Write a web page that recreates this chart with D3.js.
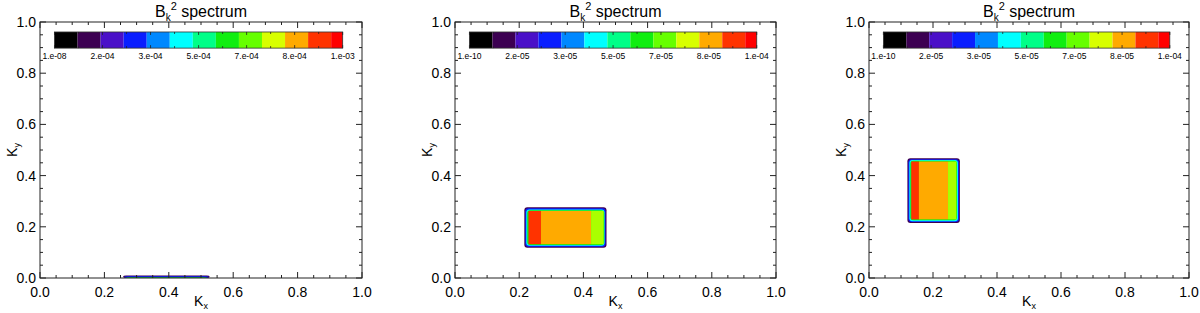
<!DOCTYPE html>
<html><head><meta charset="utf-8">
<script src="https://cdn.jsdelivr.net/npm/d3@7"></script>
<style>body{margin:0;background:#fff}svg{display:block}text{font-family:"Liberation Sans",Arial,sans-serif;fill:#000}</style>
</head><body><svg id="c" width="1200" height="313"></svg>
<script>
// ---- data ----
const levelColors = ["#000000","#3c0052","#4a10c8","#0a1eff","#0088ff","#00ffff","#00ff88","#10ee10","#66ff00","#d8ff00","#ffaa00","#ff3300","#ff0000"];
const axisTicks = [0, 0.2, 0.4, 0.6, 0.8, 1.0];
const axisTickLabels = ["0.0","0.2","0.4","0.6","0.8","1.0"];
const cbLabels1 = ["1.e-08","2.e-04","3.e-04","5.e-04","7.e-04","8.e-04","1.e-03"];
const cbLabels2 = ["1.e-10","2.e-05","3.e-05","5.e-05","7.e-05","8.e-05","1.e-04"];
const cbLabels3 = ["1.e-10","2.e-05","3.e-05","5.e-05","7.e-05","8.e-05","1.e-04"];
// contour bands: [level, kx0, kx1, ky0, ky1]
const bands1 = [[1,0.258,0.527,0.000,0.010],[3,0.261,0.524,0.000,0.007],[7,0.265,0.520,0.000,0.003]];
const bands2 = [[1,0.216,0.472,0.118,0.276],[3,0.219,0.469,0.122,0.272],[5,0.222,0.466,0.126,0.268],[7,0.225,0.465,0.129,0.265],
                [11,0.229,0.268,0.132,0.262],[10,0.268,0.424,0.132,0.262],[8,0.424,0.463,0.132,0.262]];
const bands3 = [[1,0.120,0.284,0.215,0.468],[3,0.123,0.281,0.219,0.464],[5,0.126,0.278,0.222,0.461],[7,0.129,0.275,0.226,0.458],
                [11,0.132,0.156,0.229,0.455],[10,0.156,0.247,0.229,0.455],[8,0.247,0.273,0.229,0.455]];

const panels = [
  {left:40, right:362, bands:bands1, cb:cbLabels1},
  {left:455, right:776, bands:bands2, cb:cbLabels2},
  {left:869, right:1189, bands:bands3, cb:cbLabels3}
];
const plotTop = 22, plotBottom = 278;
const svg = d3.select("#c");
const stripColor = "#aaff00";

panels.forEach(p => {
  const g = svg.append("g");
  const x = d3.scaleLinear().domain([0,1]).range([p.left, p.right]);
  const y = d3.scaleLinear().domain([0,1]).range([plotBottom, plotTop]);

  // bands
  g.selectAll("rect.band").data(p.bands).enter().append("rect")
    .attr("x", d => x(d[1])).attr("width", d => x(d[2]) - x(d[1]))
    .attr("y", d => y(d[4])).attr("height", d => y(d[3]) - y(d[4]))
    .attr("rx", d => d[0] < 8 ? 3 : 0)
    .attr("fill", d => d[0] === 8 ? stripColor : levelColors[d[0]]);

  // colorbar
  const cbx = d3.scaleLinear().domain([0, 12.5]).range([x(0.045), x(0.94)]);
  const cby0 = y(0.961), cby1 = y(0.898);
  g.selectAll("rect.cb").data(levelColors).enter().append("rect")
    .attr("x", (d,i) => cbx(i)).attr("width", (d,i) => cbx(Math.min(i+1,12.5)) - cbx(i))
    .attr("y", cby0).attr("height", cby1 - cby0).attr("fill", d => d);
  g.append("rect").attr("x", cbx(0)).attr("y", cby0).attr("width", cbx(12.5)-cbx(0)).attr("height", cby1-cby0)
    .attr("fill","none").attr("stroke","#333").attr("stroke-width",0.8);
  const cbl = d3.scaleLinear().domain([0, p.cb.length-1]).range([cbx(0), cbx(12.5)]);
  const cbMinor = d3.range(0, p.cb.length-1+0.01, 0.5);
  cbMinor.forEach(t => {
    const xx = cbl(t), len = (t % 1 === 0) ? 3 : 2;
    g.append("line").attr("x1",xx).attr("x2",xx).attr("y1",cby0).attr("y2",cby0+len).attr("stroke","#222").attr("stroke-width",0.8);
    g.append("line").attr("x1",xx).attr("x2",xx).attr("y1",cby1).attr("y2",cby1-len).attr("stroke","#222").attr("stroke-width",0.8);
  });
  g.selectAll("text.cbl").data(p.cb).enter().append("text")
    .attr("x", (d,i) => cbl(i)).attr("y", cby1 + 11).attr("text-anchor","middle")
    .style("font-size","8.5px").text(d => d);

  // axes frame
  g.append("rect").attr("x", p.left).attr("y", plotTop).attr("width", p.right-p.left).attr("height", plotBottom-plotTop)
    .attr("fill","none").attr("stroke","#222").attr("stroke-width",1);
  const minor = d3.range(0, 1.0001, 0.05);
  minor.forEach(t => {
    const major = Math.abs(Math.round(t*5) - t*5) < 1e-6;
    const len = major ? 6 : 3;
    const xx = x(t), yy = y(t);
    g.append("line").attr("x1",xx).attr("x2",xx).attr("y1",plotBottom).attr("y2",plotBottom-len).attr("stroke","#222");
    g.append("line").attr("x1",xx).attr("x2",xx).attr("y1",plotTop).attr("y2",plotTop+len).attr("stroke","#222");
    g.append("line").attr("y1",yy).attr("y2",yy).attr("x1",p.left).attr("x2",p.left+len).attr("stroke","#222");
    g.append("line").attr("y1",yy).attr("y2",yy).attr("x1",p.right).attr("x2",p.right-len).attr("stroke","#222");
  });
  g.selectAll("text.xt").data(axisTicks).enter().append("text")
    .attr("x", d => x(d)).attr("y", plotBottom + 19).attr("text-anchor","middle").style("font-size","14px")
    .text((d,i) => axisTickLabels[i]);
  g.selectAll("text.yt").data(axisTicks).enter().append("text")
    .attr("x", p.left - 4).attr("y", d => y(d) + 5).attr("text-anchor","end").style("font-size","14px")
    .text((d,i) => axisTickLabels[i]);

  // axis titles
  const xt = g.append("text").attr("x", (p.left+p.right)/2).attr("y", 306).attr("text-anchor","middle").style("font-size","14px");
  xt.append("tspan").text("K");
  xt.append("tspan").attr("dy",3).style("font-size","9px").text("x");
  const yt = g.append("text").attr("transform", `translate(${p.left-23},${(plotTop+plotBottom)/2}) rotate(-90)`)
    .attr("text-anchor","middle").style("font-size","14px");
  yt.append("tspan").text("K");
  yt.append("tspan").attr("dy",3).style("font-size","9px").text("y");

  // title
  const tt = g.append("text").attr("x", (p.left+p.right)/2).attr("y", 17).attr("text-anchor","middle").style("font-size","16px");
  tt.append("tspan").text("B");
  tt.append("tspan").attr("dy",4).style("font-size","10px").text("k");
  tt.append("tspan").attr("dy",-11).style("font-size","11px").text("2");
  tt.append("tspan").attr("dy",7).text(" spectrum");
});
</script></body></html>
